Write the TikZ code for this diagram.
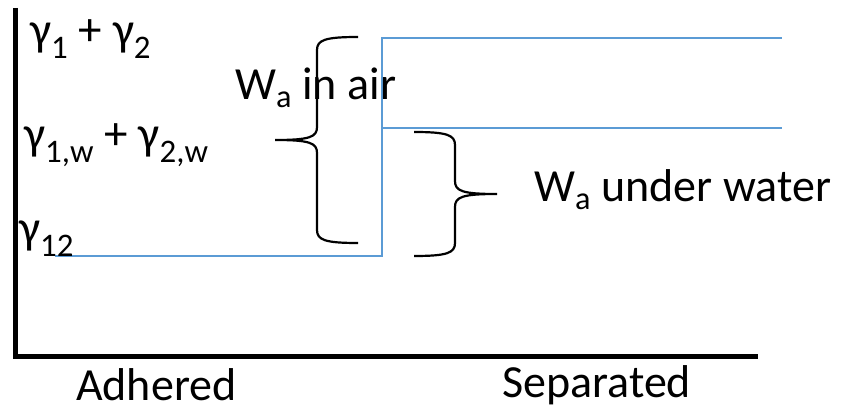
\documentclass[tikz,border=0pt]{standalone}
\usepackage{fontspec}
\setmainfont{Carlito}
\usepackage{tikz}

\definecolor{levelblue}{RGB}{91,155,213}

\NewDocumentCommand{\sidebrace}{mmmO{1}}{%
\begin{scope}[shift={(#1,#2)},xscale=#4]%
\draw[brace] (83,-#3) .. controls (50,-#3) and (42,-#3+3) .. (42,-#3+13)
  -- (42,-13) .. controls (42,-3) and (35,0) .. (0,0)
  .. controls (35,0) and (42,3) .. (42,13)
  -- (42,#3-13) .. controls (42,#3-3) and (50,#3) .. (83,#3);
\end{scope}%
}

\tikzset{
  axis/.style={line width=5pt},
  level/.style={levelblue, line width=2pt},
  brace/.style={black, line width=2.2pt},
  lbl/.style={inner sep=0pt, anchor=base west, font=\fontsize{46}{50}\selectfont},
  glbl/.style={lbl, font=\fontsize{47}{52}\selectfont},
}

\begin{document}
\begin{tikzpicture}[x=1pt,y=-1pt]
        \useasboundingbox (0,0) rectangle (846,411);

        % Axes.
        \draw[axis] (15,8) |- (758,357);

        % Energy levels.
        \draw[level] (55,256) -| (382,38) -- (782,38);
        \draw[level, line width=1.2pt] (382,128) -- (782,128);

        % Braces.
        \sidebrace{275}{140}{103}
        \sidebrace{497}{194}{62}[-1]

        % Surface energies.
        \node[glbl] (g12sum) at (30,46) {γ\textsubscript{1} + γ\textsubscript{2}};
        \node[glbl] (gw) at (24,150) {γ\textsubscript{1,w} + γ\textsubscript{2,w}};
        \node[glbl] (g12) at (19,244) {γ\textsubscript{12}};

        % Work of adhesion.
        \node[lbl] (wair) at (235,100) {W\textsubscript{a} in air};
        \node[lbl] (wwater) at (534,202) {W\textsubscript{a} under water};

        % States.
        \node[lbl] (adh) at (76,400) {Adhered};
        \node[lbl] (sep) at (502,398) {Separated};
\end{tikzpicture}
\end{document}
